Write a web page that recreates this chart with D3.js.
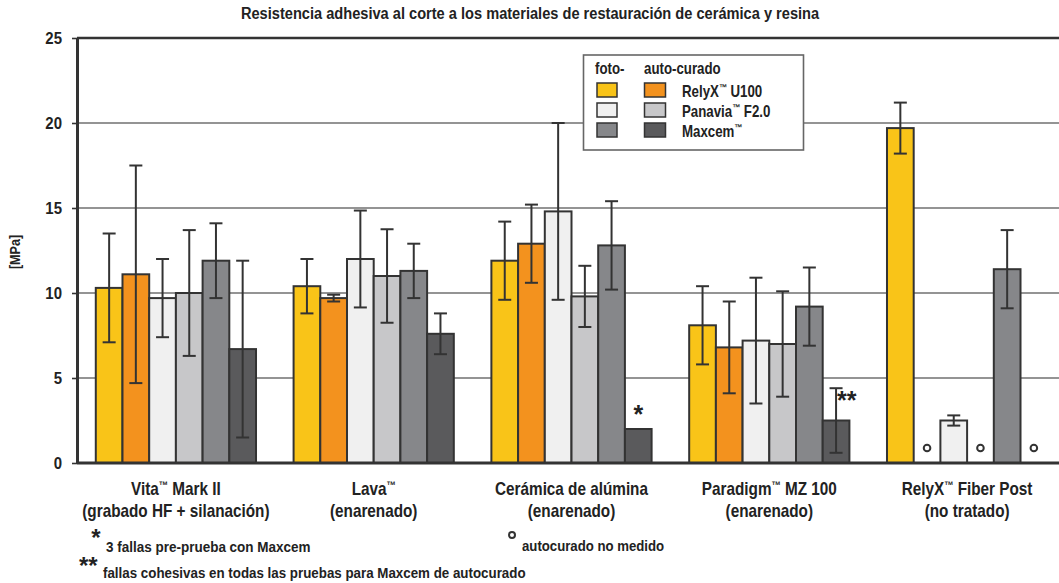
<!DOCTYPE html>
<html><head><meta charset="utf-8">
<script src="https://cdn.jsdelivr.net/npm/d3@7"></script>
<style>
body{margin:0;background:#fff;}
svg text{font-family:"Liberation Sans Narrow","Arial Narrow","Liberation Sans",sans-serif;fill:#222;}
</style></head>
<body><svg id="c" width="1059" height="583"></svg>
<script>
// ---- data ----
const groupLine1 = ["Vita™ Mark II", "Lava™", "Cerámica de alúmina", "Paradigm™ MZ 100", "RelyX™ Fiber Post"];
const groupLine2 = ["(grabado HF + silanación)", "(enarenado)", "(enarenado)", "(enarenado)", "(no tratado)"];
const seriesKeys = ["relyxFoto", "relyxAuto", "panaviaFoto", "panaviaAuto", "maxcemFoto", "maxcemAuto"];
const seriesColors = ["#F9C418", "#F3921E", "#F0F0F0", "#C7C7C9", "#86878A", "#5A5A5C"];
const legendNames = ["RelyX™ U100", "Panavia™ F2.0", "Maxcem™"];
const yTicks = [0, 5, 10, 15, 20, 25];

const relyxFoto     = [10.3, 10.4, 11.9, 8.1, 19.7];
const relyxFotoSD   = [3.2, 1.6, 2.3, 2.3, 1.5];
const relyxAuto     = [11.1, 9.7, 12.9, 6.8, null];
const relyxAutoSD   = [6.4, 0.2, 2.3, 2.7, null];
const panaviaFoto   = [9.7, 12.0, 14.8, 7.2, 2.5];
const panaviaFotoSD = [2.3, 2.85, 5.2, 3.7, 0.3];
const panaviaAuto   = [10.0, 11.0, 9.8, 7.0, null];
const panaviaAutoSD = [3.7, 2.75, 1.8, 3.1, null];
const maxcemFoto    = [11.9, 11.3, 12.8, 9.2, 11.4];
const maxcemFotoSD  = [2.2, 1.6, 2.6, 2.3, 2.3];
const maxcemAuto    = [6.7, 7.6, 2.0, 2.5, null];
const maxcemAutoSD  = [5.2, 1.2, null, 1.9, null];

const seriesValues = [relyxFoto, relyxAuto, panaviaFoto, panaviaAuto, maxcemFoto, maxcemAuto];
const seriesSD = [relyxFotoSD, relyxAutoSD, panaviaFotoSD, panaviaAutoSD, maxcemFotoSD, maxcemAutoSD];

// ---- helpers ----
// condensed text: horizontally scaled, with small raised ™
function ctext(parent, x, y, size, sx, anchor, str, weight) {
  const t = parent.append("text")
    .attr("transform", `translate(${x},${y}) scale(${sx},1)`)
    .attr("text-anchor", anchor || "start")
    .attr("font-size", size).attr("font-weight", weight || "bold");
  const parts = str.split("™");
  parts.forEach((p, i) => {
    if (i > 0) {
      t.append("tspan").attr("font-size", size * 0.6).attr("dy", -size * 0.32).text("™");
      t.append("tspan").attr("dy", size * 0.32).text(p);
    } else {
      t.append("tspan").text(p);
    }
  });
  return t;
}

// ---- chart ----
const svg = d3.select("#c");
const W = 1059;
const y = d3.scaleLinear().domain([0, 25]).range([463, 38]);
const x0 = d3.scaleBand().domain(groupLine1).range([77, 1066]).paddingInner(0.19).paddingOuter(0.095);
const x1 = d3.scaleBand().domain(seriesKeys).range([0, x0.bandwidth()]);
const bw = x1.bandwidth();

// title
ctext(svg, 530, 19, 17, 0.86, "middle",
  "Resistencia adhesiva al corte a los materiales de restauración de cerámica y resina");

// gridlines
svg.append("g").selectAll("line").data(yTicks.filter(d => d > 0 && d < 25)).join("line")
  .attr("x1", 77).attr("x2", W).attr("y1", d => y(d)).attr("y2", d => y(d))
  .attr("stroke", "#707070").attr("stroke-width", 1.6);
svg.append("line").attr("x1", 77).attr("x2", W).attr("y1", y(25)).attr("y2", y(25))
  .attr("stroke", "#333").attr("stroke-width", 2.5);

// y axis
const yAxis = svg.append("g").attr("transform", "translate(77,0)")
  .call(d3.axisLeft(y).tickValues(yTicks).tickSize(5).tickSizeOuter(0).tickFormat(() => ""));
yAxis.select(".domain").attr("stroke", "#333").attr("stroke-width", 3);
yAxis.selectAll(".tick line").attr("stroke", "#333").attr("stroke-width", 1.6);
yTicks.forEach(v => {
  ctext(svg, 62, y(v) + 6, 17, 0.88, "end", String(v)).attr("fill", "#333");
});
svg.append("text").attr("transform", "translate(20,252) rotate(-90) scale(0.9,1)").attr("text-anchor", "middle")
  .attr("font-size", 14).attr("font-weight", "bold").text("[MPa]");

// legend
const lg = svg.append("g");
lg.append("rect").attr("x", 583.5).attr("y", 55).attr("width", 220).attr("height", 95)
  .attr("fill", "#fff").attr("stroke", "#666").attr("stroke-width", 1.6);
ctext(lg, 595, 74, 16, 0.83, "start", "foto-");
ctext(lg, 644, 74, 16, 0.83, "start", "auto-curado");
legendNames.forEach((n, i) => {
  const yy = 83 + i * 20;
  lg.append("rect").attr("x", 597).attr("y", yy).attr("width", 20).attr("height", 14)
    .attr("fill", seriesColors[i * 2]).attr("stroke", "#333").attr("stroke-width", 1.5);
  lg.append("rect").attr("x", 644.5).attr("y", yy).attr("width", 21).attr("height", 14)
    .attr("fill", seriesColors[i * 2 + 1]).attr("stroke", "#333").attr("stroke-width", 1.5);
  ctext(lg, 682, yy + 13.5, 16, 0.83, "start", n);
});

// bars
const bars = [];
groupLine1.forEach((g, gi) => {
  seriesKeys.forEach((s, si) => {
    const v = seriesValues[si][gi];
    if (v != null) bars.push({ g, s, si, v, sd: seriesSD[si][gi] });
  });
});
svg.append("g").selectAll("rect").data(bars).join("rect")
  .attr("x", d => x0(d.g) + x1(d.s)).attr("width", bw)
  .attr("y", d => y(d.v)).attr("height", d => y(0) - y(d.v))
  .attr("fill", d => seriesColors[d.si]).attr("stroke", "#333").attr("stroke-width", 2);

// error bars
const eb = svg.append("g").attr("stroke", "#333").attr("stroke-width", 2);
bars.filter(d => d.sd != null).forEach(d => {
  const cx = x0(d.g) + x1(d.s) + bw / 2;
  const hi = y(d.v + d.sd), lo = y(Math.max(0, d.v - d.sd));
  eb.append("line").attr("x1", cx).attr("x2", cx).attr("y1", hi).attr("y2", lo);
  eb.append("line").attr("x1", cx - 6.5).attr("x2", cx + 6.5).attr("y1", hi).attr("y2", hi);
  eb.append("line").attr("x1", cx - 6.5).attr("x2", cx + 6.5).attr("y1", lo).attr("y2", lo);
});

// baseline axis
svg.append("line").attr("x1", 77).attr("x2", W).attr("y1", y(0)).attr("y2", y(0))
  .attr("stroke", "#333").attr("stroke-width", 3);

// not-measured markers
const nm = [];
groupLine1.forEach((g, gi) => {
  seriesKeys.forEach((s, si) => {
    if (seriesValues[si][gi] == null) nm.push({ g, s });
  });
});
svg.append("g").selectAll("circle").data(nm).join("circle")
  .attr("cx", d => x0(d.g) + x1(d.s) + bw / 2).attr("cy", y(0) - 15).attr("r", 3.3)
  .attr("fill", "#fff").attr("stroke", "#333").attr("stroke-width", 2);

// annotations
{
  const s = "maxcemAuto";
  const g3 = groupLine1[2];
  svg.append("text").attr("x", x0(g3) + x1(s) + bw / 2).attr("y", y(maxcemAuto[2]) - 6)
    .attr("text-anchor", "middle").attr("font-size", 25).attr("font-weight", "bold").text("*");
  const g4 = groupLine1[3];
  svg.append("text").attr("x", x0(g4) + x1(s) + bw / 2 + 1).attr("y", y(maxcemAuto[3] + maxcemAutoSD[3]) + 21)
    .attr("font-size", 25).attr("font-weight", "bold").text("**");
}

// category labels
groupLine1.forEach((g, gi) => {
  const cx = x0(g) + x0.bandwidth() / 2;
  ctext(svg, cx, 495, 18, 0.85, "middle", g);
  ctext(svg, cx, 517, 18, 0.85, "middle", groupLine2[gi]);
});

// footnotes
svg.append("text").attr("x", 96).attr("y", 546).attr("text-anchor", "middle").attr("font-size", 24).attr("font-weight", "bold").text("*");
ctext(svg, 106, 552, 15, 0.9, "start", "3 fallas pre-prueba con Maxcem");
svg.append("text").attr("x", 79).attr("y", 574).attr("font-size", 24).attr("font-weight", "bold").text("**");
ctext(svg, 103, 578, 15, 0.89, "start", "fallas cohesivas en todas las pruebas para Maxcem de autocurado");
svg.append("circle").attr("cx", 512).attr("cy", 535).attr("r", 3).attr("fill", "#fff").attr("stroke", "#333").attr("stroke-width", 2);
ctext(svg, 522, 551, 15, 0.88, "start", "autocurado no medido");
</script></body></html>
